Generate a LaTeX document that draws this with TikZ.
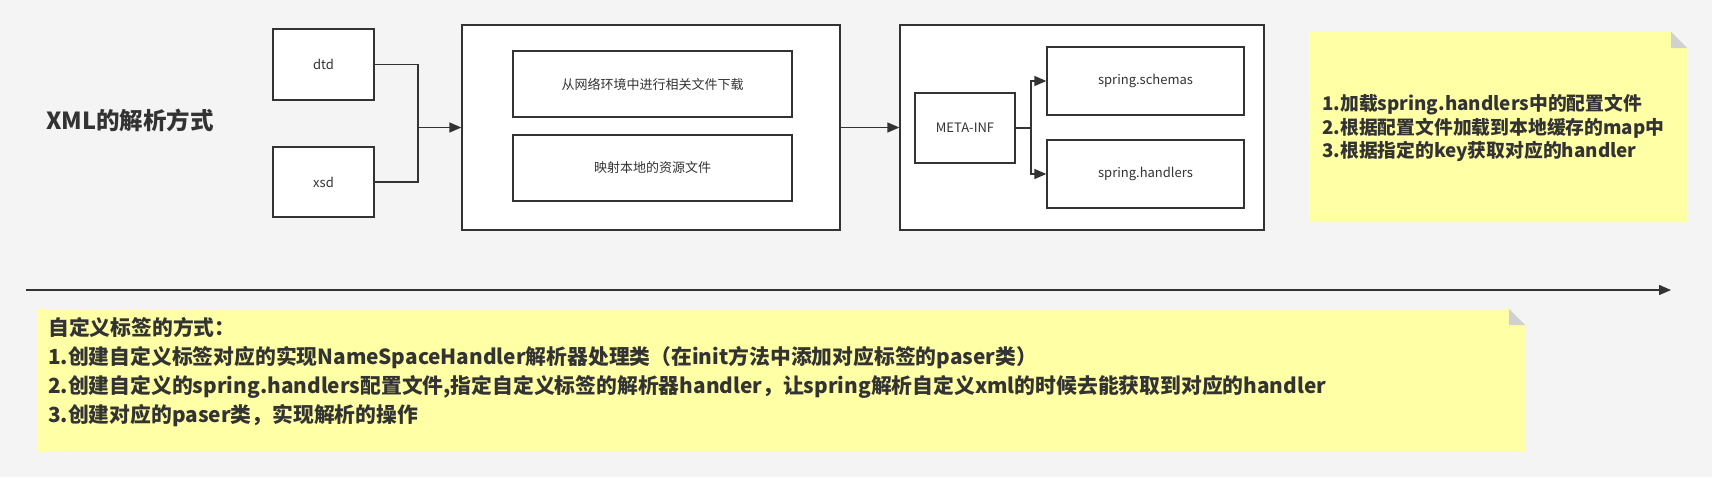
\documentclass[tikz,border=0pt]{standalone}
\usepackage{fontspec}
\setmainfont{Noto Sans CJK SC}
\usetikzlibrary{arrows.meta}
\definecolor{bg}{HTML}{F4F4F4}
\definecolor{ink}{HTML}{333333}
\definecolor{notefill}{HTML}{FFFFA6}
\definecolor{foldfill}{HTML}{D0D0D0}
\tikzset{
  boxnode/.style={draw=ink, line width=1.3pt, fill=white, inner sep=0pt, text=ink, font=\fontsize{13}{16}\selectfont},
  conn/.style={draw=ink, line width=1.4pt},
  arr/.style={conn, -{Triangle[length=12pt,width=10pt]}},
  notetext/.style={text=ink, align=left, inner sep=0pt},
}
\begin{document}
\begin{tikzpicture}[x=1pt,y=-1pt]
\useasboundingbox (0,0) rectangle (1712,477);
\fill[bg] (0,0) rectangle (1712,477);
% title
\node[text=ink, inner sep=0pt, font=\bfseries\fontsize{23.5}{28}\selectfont] (title) at (130,120) {XML的解析方式};
% left boxes
\node[boxnode, minimum width=101pt, minimum height=71pt] (dtd) at (323.5,64.5) {dtd};
\node[boxnode, minimum width=101pt, minimum height=70pt] (xsd) at (323.5,182) {xsd};
% big box 1
\node[boxnode, minimum width=378pt, minimum height=205pt] (big1) at (651,127.5) {};
\node[boxnode, minimum width=279pt, minimum height=66pt] (dl) at (652.5,84) {从网络环境中进行相关文件下载};
\node[boxnode, minimum width=279pt, minimum height=66pt] (map) at (652.5,168) {映射本地的资源文件};
% big box 2
\node[boxnode, minimum width=364pt, minimum height=205pt] (big2) at (1082,127.5) {};
\node[boxnode, minimum width=100pt, minimum height=70pt] (meta) at (965,128) {META-INF};
\node[boxnode, minimum width=197pt, minimum height=68pt] (schemas) at (1145.5,81) {spring.schemas};
\node[boxnode, minimum width=197pt, minimum height=68pt] (handlers) at (1145.5,174) {spring.handlers};
% connectors
\coordinate (j1) at (418,127.5);
\draw[conn] (dtd.east) -| (j1) |- (xsd.east);
\draw[arr] (j1) -- (big1.west);
\draw[arr] (big1.east) -- (big2.west);
\coordinate (j2) at (1031,128);
\draw[conn] (meta.east) -- (j2);
\draw[arr] (j2) |- (schemas.west);
\draw[arr] (j2) |- (handlers.west);
% timeline
\coordinate (l1) at (26,290);
\coordinate (l2) at (1671,290);
\draw[arr] (l1) -- (l2);
% top note
\fill[notefill] (1310,32) -- (1671,32) -- (1687,48) -- (1687,222) -- (1310,222) -- cycle;
\fill[foldfill] (1671,32) -- (1671,48) -- (1687,48) -- cycle;
\node[notetext, anchor=west, font=\bfseries\fontsize{18.8}{23.5}\selectfont] (note1) at (1322,128) {1.加载spring.handlers中的配置文件\\2.根据配置文件加载到本地缓存的map中\\3.根据指定的key获取对应的handler};
% bottom note
\fill[notefill] (38,309) -- (1509,309) -- (1525,325) -- (1525,452) -- (38,452) -- cycle;
\fill[foldfill] (1509,309) -- (1509,325) -- (1525,325) -- cycle;
\node[notetext, anchor=west, font=\bfseries\fontsize{20.8}{29}\selectfont] (note2) at (48,372) {自定义标签的方式：\\1.创建自定义标签对应的实现NameSpaceHandler解析器处理类（在init方法中添加对应标签的paser类）\\2.创建自定义的spring.handlers配置文件,指定自定义标签的解析器handler，让spring解析自定义xml的时候去能获取到对应的handler\\3.创建对应的paser类，实现解析的操作};
\end{tikzpicture}
\end{document}
